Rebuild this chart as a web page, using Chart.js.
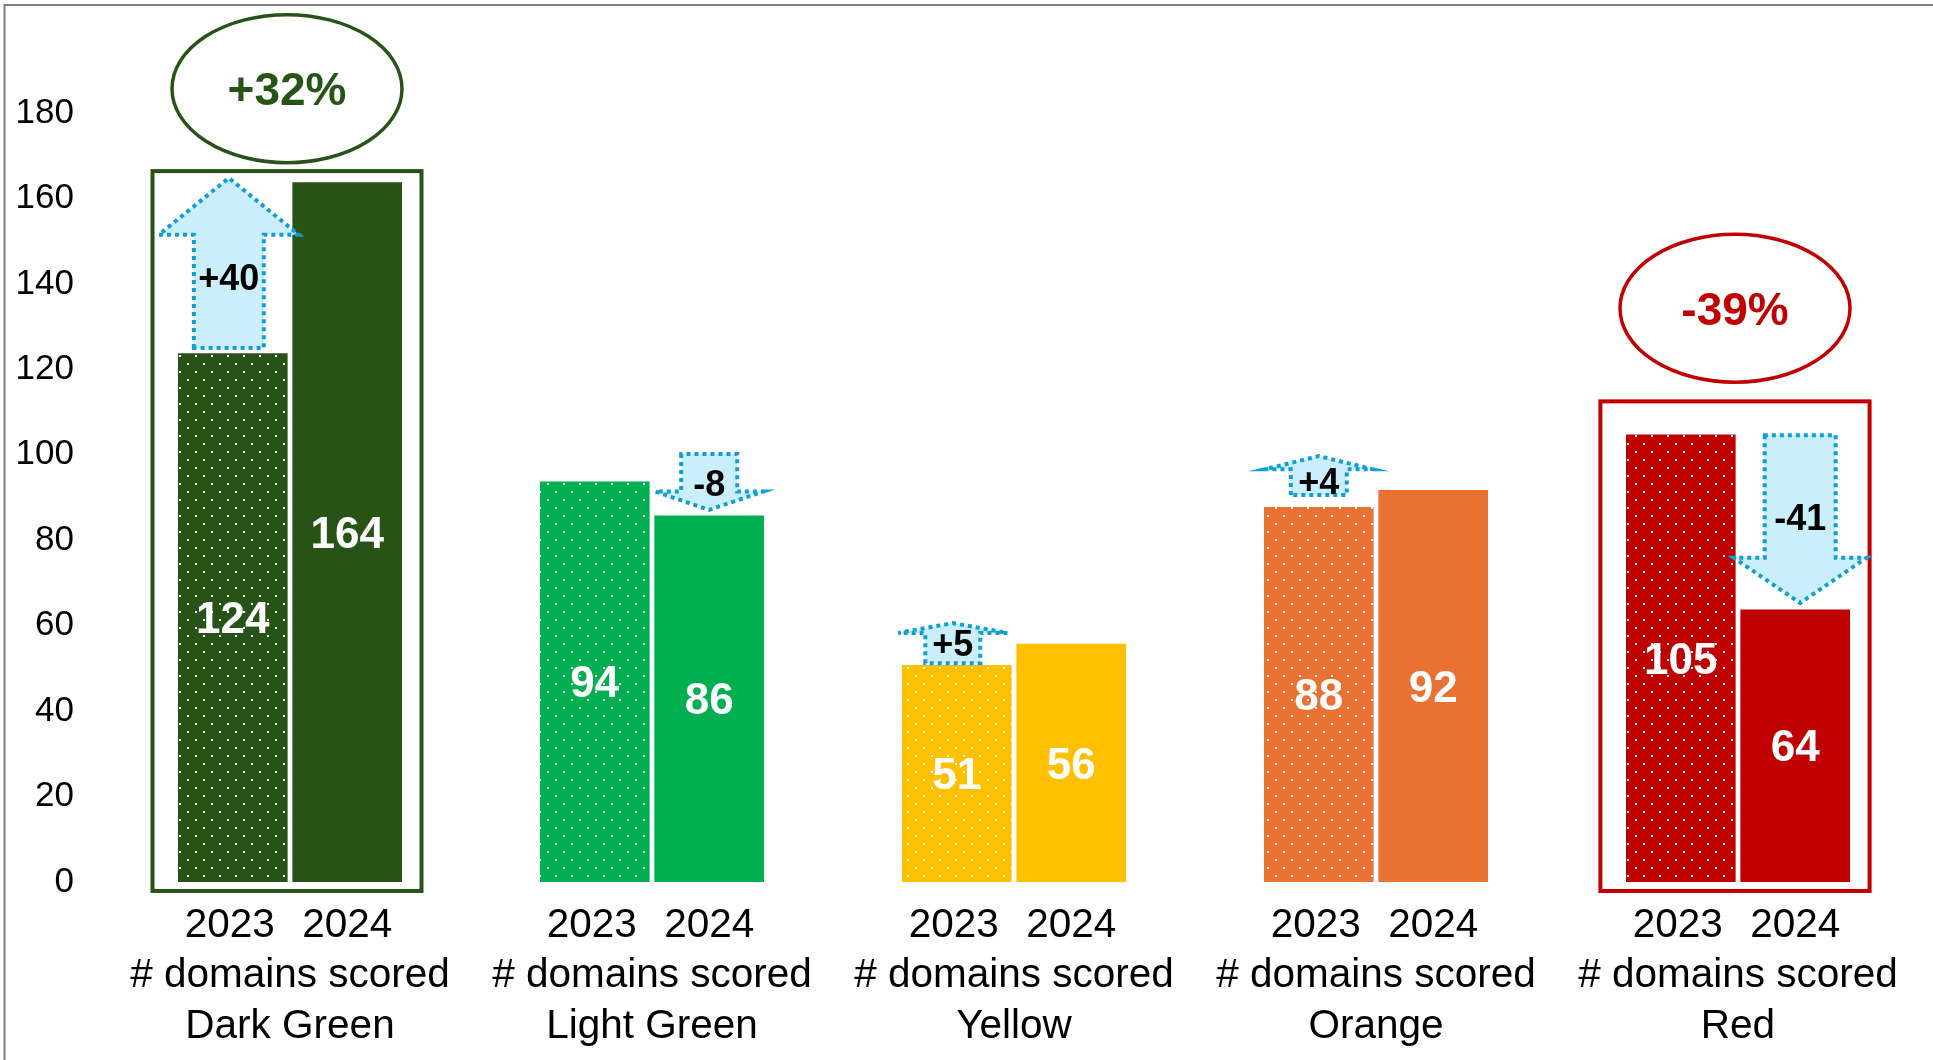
<!DOCTYPE html>
<html>
<head>
<meta charset="utf-8">
<script src="https://cdn.jsdelivr.net/npm/chart.js@4.4.1/dist/chart.umd.min.js"></script>
<style>
  html, body { margin: 0; padding: 0; background: #fff; }
  canvas { display: block; }
</style>
</head>
<body>
<canvas id="myChart" width="1933" height="1060"></canvas>
<script>
// chart data
var categories = ['Dark Green', 'Light Green', 'Yellow', 'Orange', 'Red'];
var years = ['2023', '2024'];
var values2023 = [124, 94, 51, 88, 105];
var values2024 = [164, 86, 56, 92, 64];
var changeLabels = ['+40', '-8', '+5', '+4', '-41'];
var percentLabels = ['+32%', '', '', '', '-39%'];
var yTicks = [0, 20, 40, 60, 80, 100, 120, 140, 160, 180];
var axisSubtitle = '# domains scored';

var barColors = ['#275317', '#00b050', '#ffc000', '#e97132', '#c00000'];
var FONT = '"Liberation Sans", Arial, sans-serif';

// callout shapes (value units on the y scale, pixel widths)
// arrow: which bar it sits on, shaft end, head base, tip, label height
var arrowShapes = [
    { ds: 0, dx: -4,  from: 125.0, base: 151.5, tip: 164.8, shaft: 35,   head: 70,   textAt: 141.8 },
    { ds: 1, dx: 0,   from: 100.2, base: 91.4,  tip: 87.1,  shaft: 28,   head: 54,   textAt: 93.7 },
    { ds: 0, dx: -4,  from: 51.2,  base: 58.3,  tip: 60.6,  shaft: 27.5, head: 54.5, textAt: 56.2 },
    { ds: 0, dx: 0,   from: 90.6,  base: 96.6,  tip: 99.7,  shaft: 28,   head: 54,   textAt: 94.1 },
    { ds: 1, dx: 5,   from: 104.6, base: 75.9,  tip: 65.3,  shaft: 35.5, head: 66.5, textAt: 85.6 }
];
// boxes and ellipses round the highlighted groups
var highlightShapes = {
    0: { boxTop: 166.4, boxBottom: -2.1, boxHalf: 134.5, ellipseAt: 185.7, dx: -3 },
    4: { boxTop: 112.5, boxBottom: -2.1, boxHalf: 134.6, ellipseAt: 134.3, dx: -3 }
};

var canvas = document.getElementById('myChart');
var ctx = canvas.getContext('2d');

function dotPattern(color) {
    var c = document.createElement('canvas');
    c.width = 16; c.height = 16;
    var g = c.getContext('2d');
    g.fillStyle = color;
    g.fillRect(0, 0, 16, 16);
    g.fillStyle = '#ffffff';
    g.fillRect(3, 3, 2, 2);
    g.fillRect(11, 11, 2, 2);
    return ctx.createPattern(c, 'repeat');
}

var calloutPlugin = {
    id: 'callouts',
    beforeDraw: function (chart) {
        var c = chart.ctx;
        c.save();
        c.fillStyle = '#ffffff';
        c.fillRect(0, 0, chart.width, chart.height);
        c.strokeStyle = '#808080';
        c.lineWidth = 2;
        c.beginPath();
        c.moveTo(4.5, chart.height);
        c.lineTo(4.5, 5);
        c.lineTo(chart.width, 5);
        c.stroke();
        c.restore();
    },
    afterDatasetsDraw: function (chart) {
        var c = chart.ctx;
        var y = chart.scales.y;
        var m0 = chart.getDatasetMeta(0);
        var m1 = chart.getDatasetMeta(1);
        c.save();

        // group boxes + percentage ellipses
        Object.keys(highlightShapes).forEach(function (k) {
            var i = +k, h = highlightShapes[k];
            var cx = (m0.data[i].x + m1.data[i].x) / 2 + h.dx;
            var col = barColors[i];
            c.strokeStyle = col;
            c.lineWidth = 4;
            var top = y.getPixelForValue(h.boxTop), bot = y.getPixelForValue(h.boxBottom);
            c.strokeRect(cx - h.boxHalf, top, h.boxHalf * 2, bot - top);
            var ey = y.getPixelForValue(h.ellipseAt);
            c.lineWidth = 3.5;
            c.beginPath();
            c.ellipse(cx, ey, 115, 74, 0, 0, Math.PI * 2);
            c.stroke();
            c.fillStyle = col;
            c.font = 'bold 46px ' + FONT;
            c.textAlign = 'center';
            c.textBaseline = 'middle';
            c.fillText(percentLabels[i], cx, ey + 4);
        });

        // change arrows
        arrowShapes.forEach(function (a, i) {
            var meta = a.ds === 0 ? m0 : m1;
            var cx = meta.data[i].x + a.dx;
            var pf = y.getPixelForValue(a.from), pb = y.getPixelForValue(a.base), pt = y.getPixelForValue(a.tip);
            c.beginPath();
            c.moveTo(cx - a.shaft, pf);
            c.lineTo(cx - a.shaft, pb);
            c.lineTo(cx - a.head, pb);
            c.lineTo(cx, pt);
            c.lineTo(cx + a.head, pb);
            c.lineTo(cx + a.shaft, pb);
            c.lineTo(cx + a.shaft, pf);
            c.closePath();
            c.fillStyle = '#caeefb';
            c.fill();
            c.setLineDash([4, 4]);
            c.lineWidth = 4;
            c.strokeStyle = '#0f9ed5';
            c.stroke();
            c.setLineDash([]);
            c.fillStyle = '#000000';
            c.font = 'bold 36px ' + FONT;
            c.textAlign = 'center';
            c.textBaseline = 'middle';
            c.fillText(changeLabels[i], cx, y.getPixelForValue(a.textAt) + 4);
        });

        // values inside bars
        c.fillStyle = '#ffffff';
        c.font = 'bold 44px ' + FONT;
        c.textAlign = 'center';
        c.textBaseline = 'middle';
        [m0, m1].forEach(function (meta, d) {
            var vals = d === 0 ? values2023 : values2024;
            meta.data.forEach(function (bar, i) {
                c.fillText(String(vals[i]), bar.x, (bar.y + bar.base) / 2 + 4);
            });
        });

        // category labels
        c.fillStyle = '#000000';
        c.font = '40.5px ' + FONT;
        c.textBaseline = 'alphabetic';
        categories.forEach(function (name, i) {
            c.fillText(years[0], m0.data[i].x - 3, 937);
            c.fillText(years[1], m1.data[i].x, 937);
            var gx = (m0.data[i].x + m1.data[i].x) / 2;
            c.fillText(axisSubtitle, gx, 987);
            c.fillText(name, gx, 1038);
        });
        c.restore();
    }
};

var chart = new Chart(ctx, {
    type: 'bar',
    data: {
        labels: categories,
        datasets: [{
            label: years[0],
            data: values2023,
            backgroundColor: barColors.map(dotPattern),
            borderColor: 'rgba(255,255,255,0.45)',
            borderWidth: 1,
            categoryPercentage: 0.632,
            barPercentage: 0.976
        }, {
            label: years[1],
            data: values2024,
            backgroundColor: barColors,
            borderColor: 'rgba(255,255,255,0.45)',
            borderWidth: 1,
            categoryPercentage: 0.632,
            barPercentage: 0.976
        }]
    },
    options: {
        responsive: false,
        animation: false,
        layout: { padding: { left: 16, right: 14, top: 113, bottom: 0 } },
        plugins: { legend: { display: false }, tooltip: { enabled: false } },
        scales: {
            x: {
                grid: { display: false },
                border: { display: false },
                ticks: { display: false },
                afterFit: function (s) { s.height = 178; }
            },
            y: {
                min: yTicks[0],
                max: yTicks[yTicks.length - 1],
                afterBuildTicks: function (s) { s.ticks = yTicks.map(function (v) { return { value: v }; }); },
                ticks: { color: '#000000', font: { family: FONT, size: 35 }, padding: 35 },
                grid: { display: false, drawTicks: false },
                border: { display: false },
                afterFit: function (s) { s.width = 93; }
            }
        }
    },
    plugins: [calloutPlugin]
});
</script>
</body>
</html>
